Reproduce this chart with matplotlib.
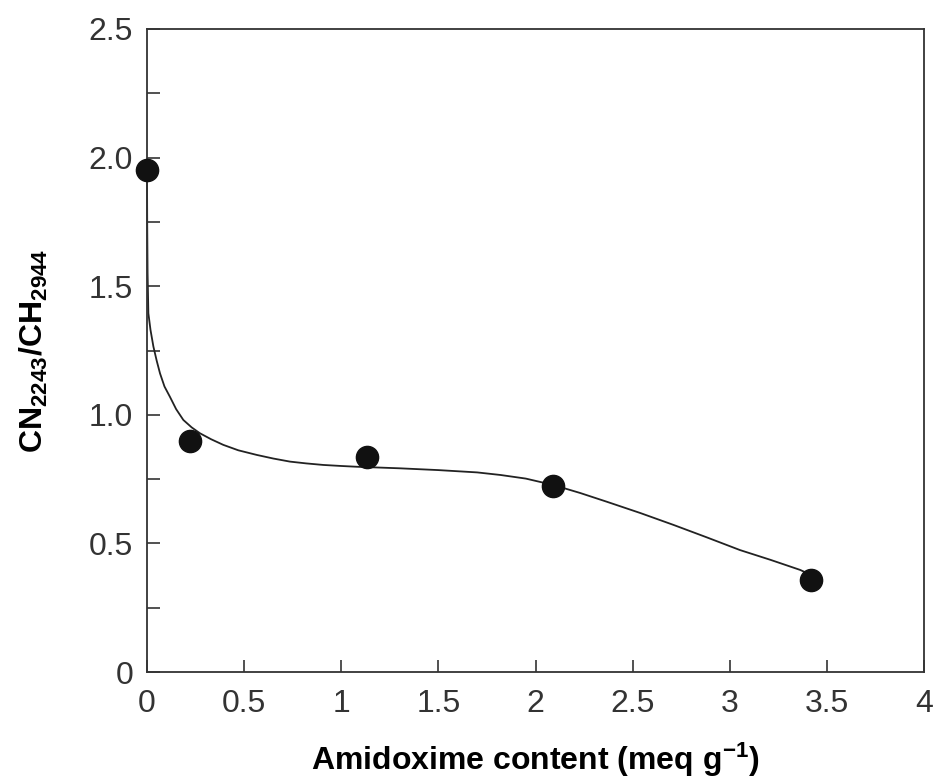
import matplotlib
matplotlib.use("Agg")
import matplotlib.pyplot as plt

plt.rcParams['font.family'] = ['Liberation Sans', 'DejaVu Sans']
plt.rcParams['mathtext.fontset'] = 'custom'
plt.rcParams['mathtext.rm'] = 'Liberation Sans'
plt.rcParams['mathtext.bf'] = 'Liberation Sans:bold'
plt.rcParams['mathtext.it'] = 'Liberation Sans:italic'

# Measured data points
amidoxime = [0.0, 0.22, 1.13, 2.09, 3.42]
ratio = [1.95, 0.90, 0.835, 0.722, 0.358]

# Points
curve_x = [0.0, 0.001, 0.003, 0.007, 0.018, 0.033, 0.05, 0.067, 0.09, 0.118,
           0.15, 0.187, 0.23, 0.273, 0.33, 0.393, 0.47, 0.565, 0.65, 0.736,
           0.82, 0.908, 1.0, 1.08, 1.3, 1.5, 1.7, 1.82, 1.95, 2.092, 2.23,
           2.367, 2.54, 2.71, 2.88, 3.053, 3.21, 3.362, 3.42]
curve_y = [1.95, 1.75, 1.55, 1.395, 1.33, 1.265, 1.21, 1.161, 1.11, 1.070,
           1.022, 0.980, 0.951, 0.928, 0.905, 0.883, 0.862, 0.844, 0.830, 0.818,
           0.811, 0.805, 0.801, 0.798, 0.792, 0.785, 0.776, 0.766, 0.752, 0.727,
           0.696, 0.662, 0.618, 0.572, 0.524, 0.474, 0.436, 0.397, 0.377]

x_ticks = [0, 0.5, 1, 1.5, 2, 2.5, 3, 3.5, 4]
x_labels = ['0', '0.5', '1', '1.5', '2', '2.5', '3', '3.5', '4']
y_ticks = [0, 0.5, 1.0, 1.5, 2.0, 2.5]
y_labels = ['0', '0.5', '1.0', '1.5', '2.0', '2.5']
y_minor = [0.25, 0.75, 1.25, 1.75, 2.25]

fig = plt.figure(figsize=(9.35, 7.78), dpi=100)
ax = fig.add_axes([147/935, 106/778, 777/935, 643/778])

ax.plot(curve_x, curve_y, color='#222222', lw=1.3, zorder=2, clip_on=False,
        solid_joinstyle='round')
ax.plot(amidoxime, ratio, 'o', color='#111111', markersize=16, zorder=3,
        clip_on=False)

ax.set_xlim(0, 4)
ax.set_ylim(0, 2.5)
ax.set_xticks(x_ticks)
ax.set_xticklabels(x_labels)
ax.set_yticks(y_ticks)
ax.set_yticklabels(y_labels)
ax.set_yticks(y_minor, minor=True)

ax.tick_params(axis='both', which='both', direction='in', length=9, width=1.2,
               color='#333333', top=False, right=False)
ax.tick_params(axis='both', which='major', labelsize=23, labelcolor='#333333')
ax.tick_params(axis='x', pad=12)
ax.tick_params(axis='y', pad=10)

for s in ax.spines.values():
    s.set_linewidth(1.3)
    s.set_color('#333333')

ax.set_xlabel(r'Amidoxime content (meq $\mathbf{g^{-1}}$)', fontsize=23,
              fontweight='bold', labelpad=16)
ax.set_ylabel(r'$\mathbf{CN_{2243}/CH_{2944}}$', fontsize=23, labelpad=28)

fig.savefig('out.png', dpi=100)
